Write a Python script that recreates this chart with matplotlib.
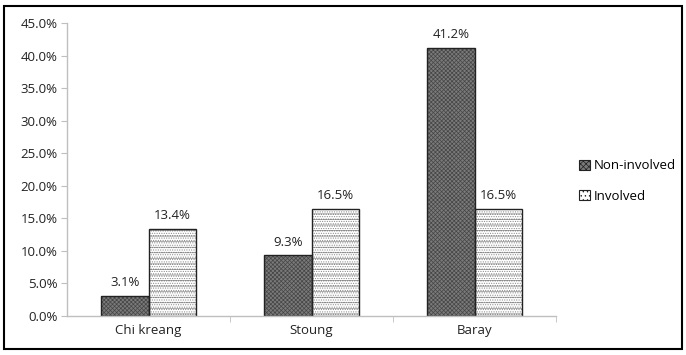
import matplotlib
matplotlib.use("Agg")
import matplotlib.pyplot as plt
import numpy as np
from matplotlib.patches import Rectangle

categories = ["Chi kreang", "Stoung", "Baray"]
non_involved = [3.1, 9.3, 41.2]
involved = [13.4, 16.5, 16.5]
yticks = [0, 5, 10, 15, 20, 25, 30, 35, 40, 45]

plt.rcParams['font.family'] = ['Open Sans', 'DejaVu Sans']
plt.rcParams['hatch.linewidth'] = 0.5

fig = plt.figure(figsize=(6.86, 3.55), dpi=100)
ax = fig.add_axes([0.0977, 0.1099, 0.7128, 0.8251])

x = np.arange(len(categories))
w = 0.29

# textured fill (hatch colour comes from edgecolor), then a crisp outline on top
ax.bar(x - w / 2, non_involved, w, facecolor="#7a7a7a", edgecolor="#454545",
       hatch="xxxxxxxx", linewidth=0)
ax.bar(x + w / 2, involved, w, facecolor="white", edgecolor="#8a8a8a",
       hatch="---.......", linewidth=0)
b1 = ax.bar(x - w / 2, non_involved, w, facecolor="none", edgecolor="#222222",
            linewidth=1.0)
b2 = ax.bar(x + w / 2, involved, w, facecolor="none", edgecolor="#222222",
            linewidth=1.0)

for bars, vals in ((b1, non_involved), (b2, involved)):
    for bar, v in zip(bars, vals):
        ax.text(bar.get_x() + bar.get_width() / 2, v + 1.0, f"{v:.1f}%",
                ha="center", va="bottom", fontsize=9.5, color="#222222")

ax.set_xlim(-0.5, 2.5)
ax.set_ylim(0, 45)
ax.set_yticks(yticks)
ax.set_yticklabels([f"{t:.1f}%" for t in yticks], fontsize=9.5, color="#222222")
ax.set_xticks(x)
ax.set_xticklabels(categories, fontsize=9.5, color="#222222")
ax.set_xticks([0.5, 1.5, 2.5], minor=True)
ax.tick_params(axis="x", which="major", length=0, pad=6)
ax.tick_params(axis="x", which="minor", length=4, color="#bfbfbf")
ax.tick_params(axis="y", length=4, color="#bfbfbf", pad=3)
for s in ("top", "right"):
    ax.spines[s].set_visible(False)
for s in ("left", "bottom"):
    ax.spines[s].set_color("#bfbfbf")
    ax.spines[s].set_linewidth(1.0)

h1 = Rectangle((0, 0), 1, 1, facecolor="#7a7a7a", edgecolor="#222222",
               hatch="xxxxxx", linewidth=0.8)
h2 = Rectangle((0, 0), 1, 1, facecolor="white", edgecolor="#222222",
               hatch="....", linewidth=0.8)
fig.legend(handles=[h1, h2], labels=["Non-involved", "Involved"],
           loc="center left", bbox_to_anchor=(0.827, 0.49), frameon=False,
           fontsize=9.5, handlelength=0.8, handleheight=0.8, handletextpad=0.3,
           labelspacing=1.3)

fig.add_artist(Rectangle((0.006, 0.016), 0.988, 0.968, transform=fig.transFigure,
                         fill=False, edgecolor="black", linewidth=1.5))

fig.savefig("out.png", dpi=100)
